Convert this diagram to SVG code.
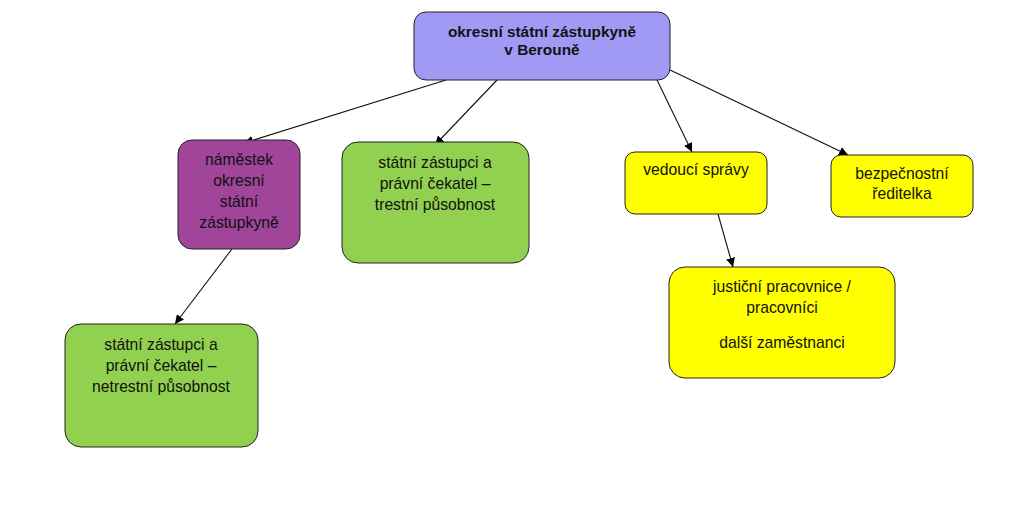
<svg xmlns="http://www.w3.org/2000/svg" width="1024" height="506" viewBox="0 0 1024 506">
<defs>
<marker id="ah" viewBox="0 0 10 10" refX="10" refY="5" markerWidth="9" markerHeight="9" markerUnits="userSpaceOnUse" orient="auto">
<path d="M0,0 L10,5 L0,10 z" fill="#000"/>
</marker>
<style>
.box{stroke:#222;stroke-width:1}
.t{font-family:"Liberation Sans",Arial,sans-serif;font-size:15.7px;fill:#111;text-anchor:middle}
.b{font-weight:bold;font-size:15.4px}
.c{stroke:#111;stroke-width:1.1;fill:none;marker-end:url(#ah)}
</style>
</defs>
<rect width="1024" height="506" fill="#fff"/>
<g id="connectors">
<line class="c" x1="446" y1="80" x2="244" y2="143"/>
<line class="c" x1="497" y1="80" x2="435" y2="145"/>
<line class="c" x1="657" y1="80" x2="692" y2="152"/>
<line class="c" x1="668" y1="69" x2="848" y2="155"/>
<line class="c" x1="235" y1="245" x2="175" y2="324"/>
<line class="c" x1="718" y1="214" x2="733" y2="267"/>
</g>
<g id="root">
<rect class="box" x="414" y="12" width="256" height="68" rx="12" fill="#a09af5"/>
<text class="t b" x="542" y="37">okresní státní zástupkyně</text>
<text class="t b" x="542" y="55">v Berouně</text>
</g>
<g id="deputy">
<rect class="box" x="178" y="140" width="122" height="109" rx="14" fill="#a0459a"/>
<text class="t" x="239" y="165">náměstek</text>
<text class="t" x="239" y="186">okresní</text>
<text class="t" x="239" y="207">státní</text>
<text class="t" x="239" y="228">zástupkyně</text>
</g>
<g id="trestni">
<rect class="box" x="342" y="142" width="187" height="121" rx="16" fill="#92d050"/>
<text class="t" x="435" y="168">státní zástupci a</text>
<text class="t" x="435" y="189">právní čekatel –</text>
<text class="t" x="435" y="210">trestní působnost</text>
</g>
<g id="netrestni">
<rect class="box" x="65" y="324" width="193" height="123" rx="16" fill="#92d050"/>
<text class="t" x="161" y="350">státní zástupci a</text>
<text class="t" x="161" y="371">právní čekatel –</text>
<text class="t" x="161" y="392">netrestní působnost</text>
</g>
<g id="vedouci">
<rect class="box" x="625" y="152" width="142" height="62" rx="10" fill="#ffff00"/>
<text class="t" x="696" y="175">vedoucí správy</text>
</g>
<g id="bezpecnostni">
<rect class="box" x="831" y="155" width="142" height="62" rx="10" fill="#ffff00"/>
<text class="t" x="902" y="179">bezpečnostní</text>
<text class="t" x="902" y="199">ředitelka</text>
</g>
<g id="justicni">
<rect class="box" x="669" y="267" width="226" height="111" rx="16" fill="#ffff00"/>
<text class="t" x="782" y="292">justiční pracovnice /</text>
<text class="t" x="782" y="313">pracovníci</text>
<text class="t" x="782" y="348">další zaměstnanci</text>
</g>
</svg>
